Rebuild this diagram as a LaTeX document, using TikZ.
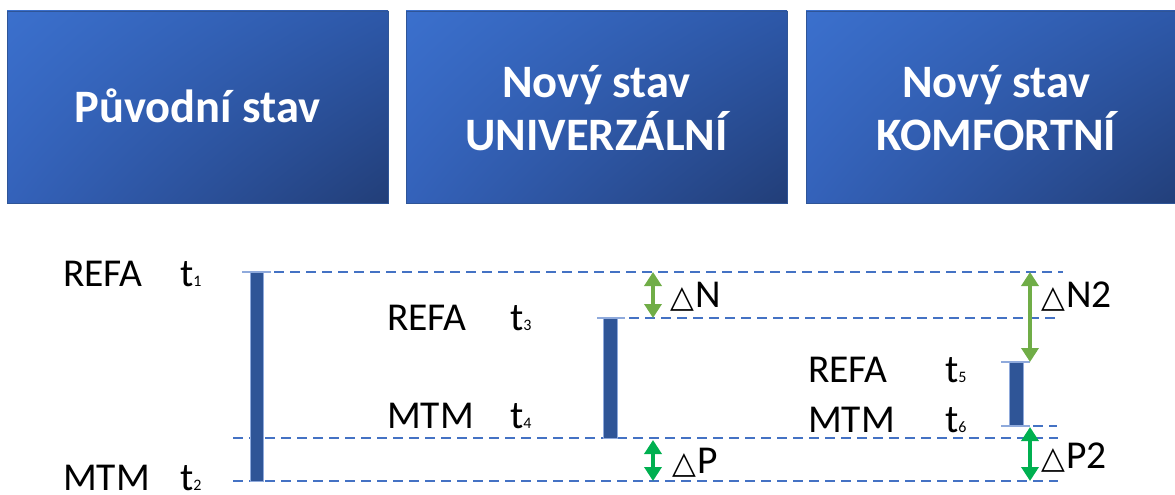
\documentclass[tikz,border=0pt]{standalone}
\usepackage{fontspec}
\setmainfont{Carlito}
\newfontfamily\symfont{DejaVu Sans Bold}
\usetikzlibrary{arrows.meta,shadings}

\definecolor{hdrUL}{HTML}{3B70CD}
\definecolor{hdrUR}{HTML}{2D58A9}
\definecolor{hdrLL}{HTML}{3462BA}
\definecolor{hdrLR}{HTML}{223E78}
\definecolor{hdrEdge}{HTML}{2F5597}
\definecolor{levelBlue}{HTML}{4472C4}
\definecolor{barBlue}{HTML}{2F5597}
\definecolor{barEdge}{HTML}{8FAADC}
\definecolor{deltaN}{HTML}{70AD47}
\definecolor{deltaP}{HTML}{00B050}

\newcommand{\sub}[1]{{\fontsize{16}{16}\selectfont #1}}
\newcommand{\dlt}{{\symfont\fontsize{31}{31}\selectfont △}\kern1pt}

\tikzset{
  header/.style={draw=hdrEdge, line width=0.8pt,
    upper left=hdrUL, upper right=hdrUR, lower left=hdrLL, lower right=hdrLR},
  htext/.style={text=white, font=\bfseries\fontsize{46.5}{46.5}\selectfont,
    anchor=base, inner sep=0pt},
  lbl/.style={font=\fontsize{39.5}{39.5}\selectfont, anchor=base west, inner sep=0pt},
  level/.style={levelBlue, line width=2.2pt, dash pattern=on 10pt off 6pt},
  bar/.style={fill=barBlue, draw=barEdge, line width=0.8pt},
  barcap/.style={barEdge, line width=1.4pt},
  gapN/.style={deltaN, line width=4pt, {Triangle[width=17pt,length=14pt]}-{Triangle[width=17pt,length=14pt]}},
  gapP/.style={deltaP, line width=4pt, {Triangle[width=17pt,length=14pt]}-{Triangle[width=17pt,length=14pt]}}
}

\begin{document}
\begin{tikzpicture}[x=1pt, y=-1pt]
  \useasboundingbox (0,0) rectangle (1175,495);
  \clip (0,0) rectangle (1175,495);

  % header boxes
  \shade[header] (7,11) rectangle (388,203);
  \shade[header] (406,11) rectangle (787,203);
  \shade[header] (806,11) rectangle (1187,203);
  \node[htext] (h1) at (197.5,122) {Původní stav};
  \node[htext] (h2a) at (596.5,97) {Nový stav};
  \node[htext] (h2b) at (596.5,150) {UNIVERZÁLNÍ};
  \node[htext] (h3a) at (996.5,97) {Nový stav};
  \node[htext] (h3b) at (996.5,150) {KOMFORTNÍ};

  % time levels
  \coordinate (t1L) at (242,272);  \coordinate (t1R) at (1063,272);
  \coordinate (t3L) at (597,318);  \coordinate (t3R) at (1058,318);
  \coordinate (t4L) at (233,438);  \coordinate (t4R) at (1058,438);
  \coordinate (t2L) at (233,481);  \coordinate (t2R) at (1058,481);
  \coordinate (t6L) at (1001,426); \coordinate (t6R) at (1057,426);
  \draw[level] (t1L) -- (t1R);
  \draw[level] (t3L) -- (t3R);
  \draw[level] (t4L) -- (t4R);
  \draw[level] (t2L) -- (t2R);
  \draw[level] (t6L) -- (t6R);

  % duration bars
  \draw[bar] (250,272) rectangle (263,481);
  \draw[bar] (603,318) rectangle (617,438);
  \draw[bar] (1009,362) rectangle (1023,426);
  \draw[barcap] (242,272) -- (271,272);
  \draw[barcap] (597,318) -- (625,318);
  \coordinate (t5L) at (1001,362); \coordinate (t5R) at (1030,362);
  \draw[barcap] (t5L) -- (t5R);
  \draw[barcap] (1001,426) -- (1030,426);

  % differences between the levels
  \coordinate (nA) at (653,272); \coordinate (nB) at (653,318);
  \coordinate (pA) at (653,440); \coordinate (pB) at (653,481);
  \coordinate (n2A) at (1030,272); \coordinate (n2B) at (1030,362);
  \coordinate (p2A) at (1030,427); \coordinate (p2B) at (1030,481);
  \draw[gapN] (nA) -- (nB);
  \draw[gapP] (pA) -- (pB);
  \draw[gapN] (n2A) -- (n2B);
  \draw[gapP] (p2A) -- (p2B);

  % labels
  \node[lbl] (r1) at (63,286) {REFA};
  \node[lbl] (s1) at (180,286) {t\sub{1}};
  \node[lbl] (m2) at (63,490) {MTM};
  \node[lbl] (s2) at (180,490) {t\sub{2}};
  \node[lbl] (r3) at (387,330) {REFA};
  \node[lbl] (s3) at (510,330) {t\sub{3}};
  \node[lbl] (m4) at (387,428) {MTM};
  \node[lbl] (s4) at (510,428) {t\sub{4}};
  \node[lbl] (r5) at (808,382) {REFA};
  \node[lbl] (s5) at (945,382) {t\sub{5}};
  \node[lbl] (m6) at (808,432) {MTM};
  \node[lbl] (s6) at (945,432) {t\sub{6}};

  \node[lbl] (dN) at (670,307) {\dlt N};
  \node[lbl] (dP) at (672,473) {\dlt P};
  \node[lbl] (dN2) at (1041,307) {\dlt N2};
  \node[lbl] (dP2) at (1041,468) {\dlt P2};
\end{tikzpicture}
\end{document}
